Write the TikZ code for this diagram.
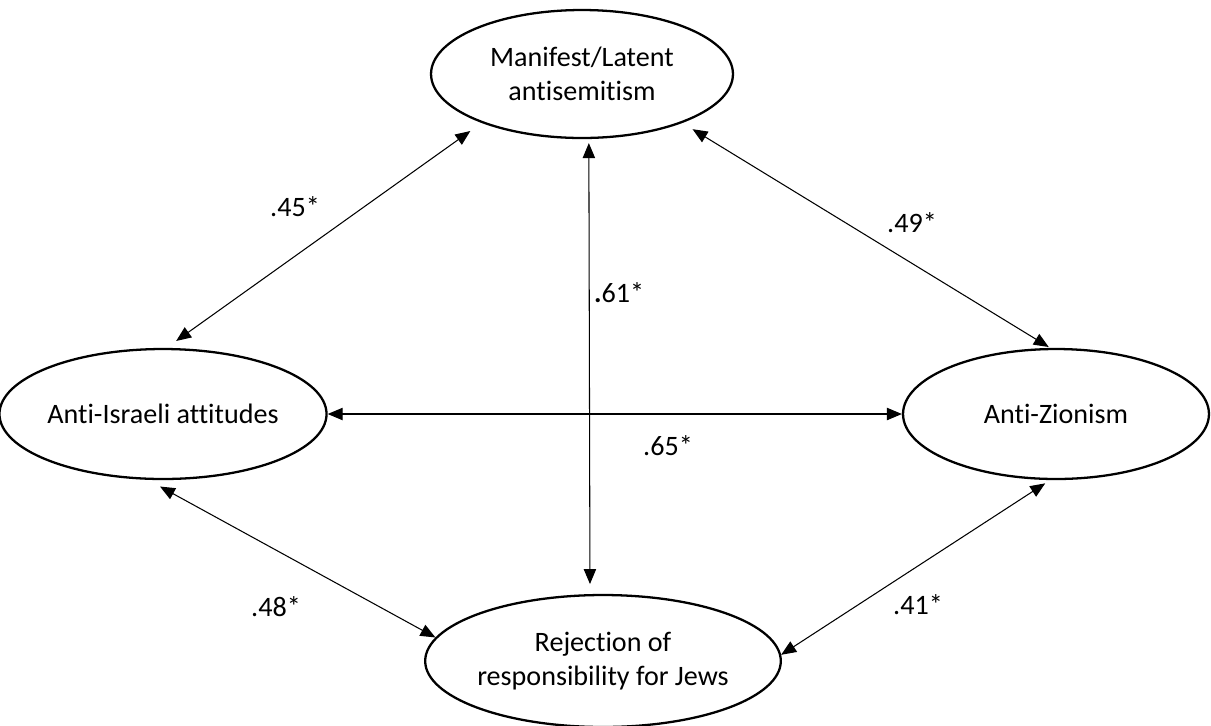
\documentclass[tikz,border=0pt]{standalone}
\usepackage{fontspec}
\setmainfont[Ligatures=NoCommon]{Carlito}
\usepackage{tikz}
\usetikzlibrary{arrows.meta,shapes.geometric}

\tikzset{
  latent/.style={ellipse, draw, line width=1.3pt, inner sep=0pt, align=center,
    font=\fontsize{16}{19.3}\selectfont},
  corr/.style={{Triangle[length=8.5pt,width=7pt]}-{Triangle[length=8.5pt,width=7pt]},
    line width=0.6pt},
  coef/.style={font=\fontsize{16}{19}\selectfont}
}

\begin{document}
\begin{tikzpicture}[x=0.02cm,y=-0.02cm]
        \useasboundingbox (0,0) rectangle (1211,725);
        % the four factors
        \node[latent, minimum width=6.04cm, minimum height=2.56cm] (mla) at (582,74)
        {Manifest/Latent\\antisemitism};
        \node[latent, minimum width=6.2cm, minimum height=2.6cm] (ais) at (163,414)
        {Anti-Israeli attitudes};
        \node[latent, minimum width=6.12cm, minimum height=2.6cm] (azi) at (1056,414)
        {Anti-Zionism};
        \node[latent, minimum width=6.6cm, minimum height=2.64cm] (rej) at (603,661)
        {Rejection of\\responsibility for Jews};

        % correlations
        \draw[corr, shorten <=6.8pt, shorten >=7.9pt] (ais.87) -- (mla.206);
        \draw[corr, shorten <=6.8pt, shorten >=1pt] (mla.334) -- (azi.95);
        \draw[corr, shorten <=2.3pt, shorten >=5.7pt] (mla.276) -- (rej.101);
        \draw[corr] (ais.east) -- (azi.west);
        \draw[corr, shorten <=7.9pt] (ais.257) -- (rej.172);
        \draw[corr, shorten <=3.4pt] (azi.265) -- (rej.2);

        % coefficients
        \node[coef] (c45) at (295,207) {.45*};
        \node[coef] (c49) at (912,223) {.49*};
        \node[coef] (c61) at (619,293) {\textbf{.}61*};
        \node[coef] (c65) at (668,446) {.65*};
        \node[coef] (c48) at (276,607) {.48*};
        \node[coef] (c41) at (918,605) {.41*};
\end{tikzpicture}
\end{document}
